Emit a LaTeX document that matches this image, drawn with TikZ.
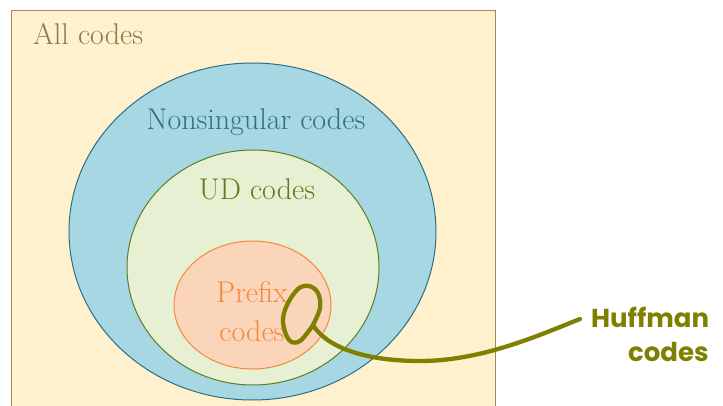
\documentclass[tikz,border=0pt]{standalone}
\usepackage{fontspec}
\newfontfamily\handfont{Poppins}
\definecolor{allfill}{HTML}{FFF0CE}
\definecolor{allline}{HTML}{A08C50}
\definecolor{alltext}{HTML}{8C7B4A}
\definecolor{nsfill}{HTML}{A7D7E2}
\definecolor{nsline}{HTML}{2A6F89}
\definecolor{nstext}{HTML}{2E7085}
\definecolor{udfill}{HTML}{E7F0D3}
\definecolor{udline}{HTML}{5E7D20}
\definecolor{pffill}{HTML}{FBD5BA}
\definecolor{pfline}{HTML}{F4893D}
\definecolor{huff}{HTML}{808000}
\begin{document}
\begin{tikzpicture}[x=1pt,y=-1pt,
  setlabel/.style={anchor=base,inner sep=0pt,font=\fontsize{30}{33}\selectfont},
  handlabel/.style={anchor=base,inner sep=0pt,text=huff,font=\handfont\bfseries\fontsize{26}{29}\selectfont},
  pen/.style={draw=huff,line width=4.3pt,line cap=round,line join=round}]
\useasboundingbox (0,0) rectangle (723,406);
\clip (0,0) rectangle (723,406);
% universe of all codes
\draw[fill=allfill,draw=allline,line width=1pt] (11,11) rectangle (495,430);
\node[setlabel,anchor=base west,text=alltext] (all) at (33,45) {All codes};
% nested classes of codes
\draw[fill=nsfill,draw=nsline,line width=1pt] (252.5,231.5) ellipse [x radius=183.5,y radius=168.5];
\node[setlabel,text=nstext] (ns) at (256,130) {Nonsingular codes};
\draw[fill=udfill,draw=udline,line width=1pt] (253,267.5) ellipse [x radius=126,y radius=117.5];
\node[setlabel,text=udline] (ud) at (257,200) {UD codes};
\draw[fill=pffill,draw=pfline,line width=1pt] (252.5,305) ellipse [x radius=78.5,y radius=64];
\node[setlabel,text=pfline] (pf1) at (252,302) {Prefix};
\node[setlabel,text=pfline] (pf2) at (252,341) {codes};
% hand-drawn annotation for Huffman codes
\coordinate (cusp) at (313,325);
\coordinate (dip) at (420,361);
\coordinate (tip) at (580,319);
\draw[pen] plot[smooth,tension=0.6] coordinates {(cusp) (320,308) (318,293) (309,286) (298,289) (287,305) (283,322) (289,340) (300,341) (cusp)};
\draw[pen] (cusp) .. controls (325,345) and (360,361) .. (dip)
                  .. controls (480,361) and (535,337) .. (tip);
\node[handlabel,anchor=base west] (h1) at (591,327) {Huffman};
\node[handlabel,anchor=base west] (h2) at (628,361) {codes};
\end{tikzpicture}
\end{document}
